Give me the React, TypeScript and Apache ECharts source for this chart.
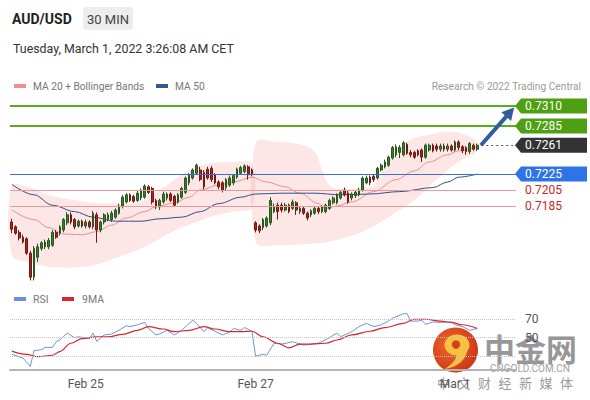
import React, { useEffect, useRef } from "react";
import * as echarts from "echarts";

const FONT = "Roboto, 'Liberation Sans', Arial, sans-serif";
const CJK = "'Noto Sans CJK SC', sans-serif";

const pairName = "AUD/USD";
const timeframe = "30 MIN";
const timestamp = "Tuesday, March 1, 2022 3:26:08 AM CET";
const copyright = "Research \u00a9 2022 Trading Central";

// candles: [open, close, low, high]
const fridayCandles = [
  [0.7165, 0.7156, 0.7151, 0.7169], [0.7159, 0.7151, 0.7149, 0.7161], [0.7152, 0.7145, 0.7142, 0.7155],
  [0.7146, 0.714, 0.7138, 0.7149], [0.7144, 0.7126, 0.7124, 0.7146], [0.7126, 0.7096, 0.7092, 0.7129],
  [0.7096, 0.7132, 0.7092, 0.7135], [0.7121, 0.7134, 0.7115, 0.7138], [0.7132, 0.7139, 0.7129, 0.7141],
  [0.7134, 0.714, 0.7131, 0.7143], [0.7134, 0.7142, 0.7131, 0.7145], [0.7136, 0.7152, 0.7134, 0.7155],
  [0.7152, 0.7146, 0.7144, 0.7155], [0.7151, 0.7159, 0.7148, 0.7161], [0.7155, 0.7168, 0.7152, 0.717],
  [0.7164, 0.7174, 0.7161, 0.7177], [0.7174, 0.7165, 0.7162, 0.7177], [0.7168, 0.7159, 0.7156, 0.717],
  [0.716, 0.7166, 0.7158, 0.7168], [0.7166, 0.716, 0.7158, 0.7168], [0.716, 0.7165, 0.7157, 0.7168],
  [0.7165, 0.7159, 0.7157, 0.7167], [0.7159, 0.7176, 0.7156, 0.7179], [0.7174, 0.7155, 0.7139, 0.7177],
  [0.7155, 0.7165, 0.7152, 0.7167], [0.7165, 0.7174, 0.7162, 0.7176], [0.7168, 0.7174, 0.7166, 0.7177],
  [0.7168, 0.7176, 0.7165, 0.7179], [0.7171, 0.718, 0.7169, 0.7182], [0.7176, 0.7185, 0.7174, 0.7188],
  [0.7185, 0.7196, 0.7182, 0.7199], [0.719, 0.7199, 0.7188, 0.7201], [0.7199, 0.7192, 0.719, 0.7201],
  [0.7197, 0.7191, 0.7189, 0.7199], [0.7192, 0.7201, 0.719, 0.7204], [0.7195, 0.7205, 0.7192, 0.7207],
  [0.7196, 0.721, 0.7194, 0.7212], [0.7209, 0.7202, 0.72, 0.7211], [0.7207, 0.719, 0.7187, 0.7209],
  [0.7192, 0.7184, 0.7181, 0.7194], [0.7184, 0.7192, 0.718, 0.7194], [0.719, 0.72, 0.7188, 0.7203],
  [0.7195, 0.72, 0.7192, 0.7202], [0.72, 0.7192, 0.719, 0.7202], [0.7197, 0.7186, 0.7184, 0.7199],
  [0.719, 0.7199, 0.7188, 0.7201], [0.7196, 0.7207, 0.7194, 0.7209], [0.7202, 0.722, 0.72, 0.7222],
  [0.7214, 0.7224, 0.7211, 0.7226], [0.722, 0.723, 0.7218, 0.7232], [0.7226, 0.7236, 0.7224, 0.7238],
  [0.723, 0.7218, 0.7216, 0.7234], [0.7227, 0.7209, 0.7206, 0.723], [0.7231, 0.722, 0.7218, 0.7234],
  [0.7232, 0.7218, 0.7215, 0.7235], [0.7224, 0.7214, 0.7212, 0.7226], [0.7215, 0.7209, 0.7206, 0.7217],
  [0.7214, 0.7205, 0.7202, 0.7216], [0.7208, 0.7218, 0.7205, 0.722], [0.7211, 0.722, 0.7209, 0.7223],
  [0.7214, 0.7223, 0.7211, 0.7225], [0.7221, 0.7231, 0.7219, 0.7233], [0.7226, 0.7233, 0.7224, 0.7235],
  [0.7228, 0.7235, 0.7226, 0.7237], [0.7234, 0.7224, 0.7218, 0.7236], [0.723, 0.7225, 0.7222, 0.7232],
];
const mondayCandles = [
  [0.7164, 0.7155, 0.7152, 0.7166], [0.716, 0.7154, 0.7151, 0.7162], [0.7158, 0.7168, 0.7155, 0.717],
  [0.716, 0.717, 0.7158, 0.7172], [0.7164, 0.7192, 0.7161, 0.7196], [0.7178, 0.7184, 0.7176, 0.7188],
  [0.7186, 0.7178, 0.7168, 0.7189], [0.7186, 0.718, 0.7177, 0.7189], [0.718, 0.7186, 0.7178, 0.7189],
  [0.7186, 0.7178, 0.7176, 0.7188], [0.7182, 0.719, 0.718, 0.7193], [0.7189, 0.718, 0.7174, 0.7191],
  [0.7178, 0.7182, 0.7175, 0.7185], [0.7182, 0.7176, 0.7174, 0.7184], [0.7176, 0.717, 0.7167, 0.7178],
  [0.7174, 0.7179, 0.7171, 0.7181], [0.7176, 0.7182, 0.7174, 0.7185], [0.7182, 0.7178, 0.7175, 0.7184],
  [0.7178, 0.7184, 0.7176, 0.7186], [0.7178, 0.7186, 0.7176, 0.7188], [0.7182, 0.7192, 0.718, 0.7194],
  [0.7189, 0.7195, 0.7187, 0.7197], [0.7189, 0.7199, 0.7187, 0.7201], [0.7195, 0.7202, 0.7193, 0.7205],
  [0.7205, 0.7199, 0.7197, 0.7208], [0.7201, 0.719, 0.7188, 0.7204], [0.7195, 0.72, 0.7192, 0.7202],
  [0.7198, 0.7202, 0.7195, 0.7205], [0.7199, 0.7205, 0.7197, 0.7208], [0.7205, 0.722, 0.7203, 0.7222],
  [0.7214, 0.722, 0.7212, 0.7223], [0.7221, 0.7214, 0.7211, 0.7223], [0.7222, 0.7218, 0.7215, 0.7224],
  [0.722, 0.7232, 0.7218, 0.7234], [0.723, 0.7236, 0.7228, 0.7238], [0.7234, 0.724, 0.7232, 0.7243],
  [0.7236, 0.7246, 0.7234, 0.7248], [0.7245, 0.7258, 0.7243, 0.726], [0.7249, 0.7259, 0.7246, 0.7262],
  [0.7252, 0.7258, 0.7245, 0.7261], [0.7249, 0.7264, 0.7247, 0.7266], [0.7262, 0.7251, 0.7249, 0.7264],
  [0.7252, 0.7249, 0.7246, 0.7255], [0.7252, 0.7246, 0.7244, 0.7254], [0.7254, 0.7249, 0.7247, 0.7256],
  [0.7255, 0.7246, 0.724, 0.7257], [0.7246, 0.7261, 0.7244, 0.7263], [0.7255, 0.7261, 0.7253, 0.7263],
  [0.7261, 0.7254, 0.7252, 0.7263], [0.726, 0.7256, 0.7253, 0.7263], [0.7256, 0.726, 0.7253, 0.7263],
  [0.726, 0.7256, 0.7253, 0.7263], [0.7256, 0.726, 0.7253, 0.7263], [0.726, 0.7255, 0.7253, 0.7262],
  [0.7255, 0.7265, 0.7253, 0.7267], [0.7265, 0.7258, 0.7255, 0.7267], [0.7259, 0.7254, 0.7251, 0.7261],
  [0.7258, 0.7253, 0.7249, 0.726], [0.7253, 0.7263, 0.725, 0.7265], [0.7261, 0.7256, 0.7254, 0.7263],
  [0.7256, 0.7261, 0.7254, 0.7263],
];
const candles = [...fridayCandles, ...mondayCandles];
const lastIndex = candles.length - 1;
const lastClose = candles[lastIndex][1];
const rightPadSlots = 10;
const slotCount = candles.length + rightPadSlots;
const categories = Array.from({ length: slotCount }, (_, i) => String(i));

const dateLabels = ["Feb 25", "Feb 27", "Mar 1"];
const dateLabelSlots = [20, 66, 120];

// [slot, price]
const ma20 = [
  [0, 0.718], [6, 0.7168], [10, 0.7158], [14, 0.715], [19, 0.7149], [23, 0.7153], [27, 0.7161],
  [31, 0.717], [36, 0.7178], [39, 0.7184], [44, 0.7189], [48, 0.7196], [51, 0.7205], [56, 0.7211],
  [60, 0.7215], [65, 0.7221], [69, 0.7215], [74, 0.7209], [78, 0.7201], [83, 0.7188], [85, 0.7182],
  [88, 0.7185], [92, 0.719], [98, 0.7203], [104, 0.7218], [109, 0.7229], [113, 0.724], [118, 0.7249],
  [121, 0.7254], [126, 0.7259],
];
const ma50 = [
  [0, 0.7212], [6, 0.7199], [11, 0.7186], [17, 0.7178], [22, 0.7171], [28, 0.7166], [35, 0.7166],
  [40, 0.7169], [46, 0.7171], [51, 0.7178], [56, 0.7188], [62, 0.7196], [66, 0.72], [73, 0.7201],
  [82, 0.7201], [89, 0.7199], [97, 0.72], [105, 0.7203], [114, 0.7208], [118, 0.7215], [121, 0.7221],
  [126, 0.7225],
];
const bandUpperFri = [
  [0, 0.721], [5, 0.7208], [10, 0.7199], [16, 0.7193], [22, 0.7189], [28, 0.7188], [34, 0.7189],
  [38, 0.7199], [42, 0.7211], [46, 0.7224], [50, 0.7233], [55, 0.7239], [60, 0.724], [65, 0.7238],
];
const bandLowerFri = [
  [0, 0.7124], [5, 0.7114], [10, 0.7109], [16, 0.7108], [22, 0.7111], [28, 0.712], [34, 0.713],
  [38, 0.7139], [42, 0.7149], [46, 0.7158], [50, 0.7165], [55, 0.7173], [60, 0.7178], [65, 0.7183],
];
const bandUpperMon = [
  [66, 0.7264], [72, 0.7265], [78, 0.7262], [82, 0.7253], [84, 0.723], [86, 0.7211], [90, 0.7206],
  [95, 0.7208], [98, 0.7212], [101, 0.7233], [104, 0.7253], [108, 0.7268], [113, 0.7274],
  [118, 0.7278], [122, 0.7275], [126, 0.7265],
];
const bandLowerMon = [
  [66, 0.714], [72, 0.7136], [78, 0.7137], [84, 0.7139], [90, 0.7145], [96, 0.7155], [101, 0.7168],
  [106, 0.7183], [110, 0.7196], [114, 0.7214], [118, 0.723], [122, 0.7243], [126, 0.7253],
];
const bands = [
  { upper: bandUpperFri, lower: bandLowerFri },
  { upper: bandUpperMon, lower: bandLowerMon },
];

const levelValues = [0.731, 0.7285, 0.7261, 0.7225, 0.7205, 0.7185];
const levelKinds = ["target", "target", "last", "pivot", "support", "support"];

const rsi = [
  [0, 32], [3, 28], [5, 19], [6, 36], [8, 37], [9, 39.5], [11, 39.5], [12, 45.6], [13, 47.5], [15, 55],
  [17, 50], [18, 51], [21, 49], [22, 55], [23, 46], [25, 53], [27, 54], [29, 58], [31, 63], [32, 62],
  [34, 64], [36, 66.6], [37, 60], [39, 53], [40, 54], [42, 58], [44, 53], [46, 58], [48, 65.5], [49, 69],
  [50, 65.5], [52, 56.5], [53, 61], [55, 57], [57, 53], [59, 56], [60, 60], [62, 58], [63, 61], [65, 57],
  [66, 30], [68, 32], [69, 31], [71, 44], [73, 43], [76, 45.6], [79, 42], [83, 44], [86, 50], [88, 55],
  [89, 51], [92, 56.5], [94, 62], [96, 65.5], [98, 62], [100, 64], [102, 68], [103, 71], [106, 76],
  [107, 76], [108, 68], [110, 68], [111, 69], [112, 64.5], [114, 67], [116, 66.6], [119, 67], [120, 64],
  [122, 62], [124, 58], [126, 60],
];
const rsiMa9 = [
  [0, 35.5], [4, 32], [7, 29.4], [11, 31], [13, 35], [16, 44], [19, 49], [23, 51], [26, 51], [30, 53.6],
  [34, 58], [37, 62], [41, 59.4], [44, 56.5], [48, 58], [52, 62], [55, 59.4], [59, 56.5], [62, 56.5],
  [65, 57], [68, 51], [72, 44], [75, 39], [78, 43], [81, 43], [85, 44], [88, 47.5], [92, 53], [97, 57],
  [101, 61], [106, 65.5], [109, 70], [112, 70], [116, 68], [119, 66.6], [122, 64], [126, 60],
];
const rsiLevels = [70, 50, 30];
const rsiLabelledLevels = [70, 50];

const watermarkName = "中金网";
const watermarkDomain = "CNGOLD.COM.CN";
const watermarkSlogan = "中文财经新媒体";

echarts.graphic.registerShape(
  "swirlTail",
  echarts.graphic.extendPath("M 12 -3 C 12 9 3 17 -11 19 C -3 14 1 9 1 4 Z", {}) as any
);

const kindStyle: Record<string, any> = {
  target: { line: "#5cab1f", width: 2, dash: null, tag: "#4f9f12", text: "#ffffff" },
  last: { line: "#555555", width: 1, dash: [2, 3], tag: "#333333", text: "#ffffff" },
  pivot: { line: "#3b6fd1", width: 1.2, dash: null, tag: "#2f74e6", text: "#ffffff" },
  support: { line: "#e79a9a", width: 1, dash: null, tag: null, text: "#c62828" },
};

function buildOption(): any {
  const crisp = (y: number) => Math.round(y) + 0.5;
  const sloganChars = Array.from(watermarkSlogan);
  return {
    animation: false,
    backgroundColor: "#ffffff",
    textStyle: { fontFamily: FONT },
    grid: [
      { left: 10, right: 74, top: 98, height: 192 },
      { left: 10, right: 74, top: 310, height: 60 },
    ],
    xAxis: [
      { type: "category", gridIndex: 0, data: categories, show: false, boundaryGap: true },
      {
        type: "category",
        gridIndex: 1,
        data: categories,
        boundaryGap: true,
        axisLine: { onZero: false, lineStyle: { color: "#b3b3b3", width: 2 } },
        axisTick: { show: false },
        splitLine: { show: false },
        axisLabel: {
          interval: (i: number) => dateLabelSlots.includes(i),
          formatter: (v: string) => {
            const k = dateLabelSlots.indexOf(Number(v));
            return k >= 0 ? dateLabels[k] : "";
          },
          color: "#555",
          fontSize: 12,
          margin: 8,
          fontFamily: FONT,
        },
      },
    ],
    yAxis: [
      { type: "value", gridIndex: 0, min: 0.708, max: 0.732, show: false },
      { type: "value", gridIndex: 1, min: 15, max: 80, show: false },
    ],
    series: [
      {
        type: "custom",
        name: "Bollinger",
        xAxisIndex: 0,
        yAxisIndex: 0,
        z: 1,
        silent: true,
        data: [[0, 0.72], [1, 0.72]],
        renderItem: (params: any, api: any) => {
          const b = bands[params.dataIndex];
          const pts = [
            ...b.upper.map((p) => api.coord(p)),
            ...b.lower.slice().reverse().map((p) => api.coord(p)),
          ];
          return {
            type: "polygon",
            shape: { points: pts, smooth: 0.35 },
            style: { fill: "rgba(242,140,140,0.22)" },
          };
        },
      },
      {
        type: "line",
        name: "MA 20",
        xAxisIndex: 0,
        yAxisIndex: 0,
        data: ma20,
        smooth: 0.35,
        smoothMonotone: "x",
        symbol: "none",
        z: 2,
        lineStyle: { color: "#ec8f90", width: 1 },
      },
      {
        type: "line",
        name: "MA 50",
        xAxisIndex: 0,
        yAxisIndex: 0,
        data: ma50,
        smooth: 0.35,
        smoothMonotone: "x",
        symbol: "none",
        z: 2,
        lineStyle: { color: "#2f5289", width: 1 },
      },
      {
        type: "candlestick",
        name: pairName,
        xAxisIndex: 0,
        yAxisIndex: 0,
        data: candles,
        barWidth: 2.2,
        z: 3,
        itemStyle: {
          color: "#3a7f31",
          color0: "#a8261e",
          borderColor: "#27561f",
          borderColor0: "#6e1a14",
          borderWidth: 1,
        },
      },
      {
        type: "custom",
        name: "levels",
        xAxisIndex: 0,
        yAxisIndex: 0,
        z: 4,
        silent: true,
        clip: false,
        data: levelValues.map((v, i) => [i, v]),
        renderItem: (params: any, api: any) => {
          const i = params.dataIndex;
          const v = levelValues[i];
          const st = kindStyle[levelKinds[i]];
          const cs = params.coordSys;
          const yRaw = api.coord([0, v])[1];
          const y = st.width === 2 ? Math.round(yRaw) : crisp(yRaw);
          const xL = levelKinds[i] === "last" ? api.coord([lastIndex, v])[0] + 4 : cs.x;
          const xR = cs.x + cs.width;
          const children: any[] = [
            {
              type: "line",
              shape: { x1: xL, y1: y, x2: xR, y2: y },
              style: { stroke: st.line, lineWidth: st.width, lineDash: st.dash || undefined },
            },
          ];
          if (st.tag) {
            children.push({
              type: "polygon",
              shape: {
                points: [[xR - 1, yRaw], [xR + 5, yRaw - 7.5], [xR + 71, yRaw - 7.5], [xR + 71, yRaw + 7.5], [xR + 5, yRaw + 7.5]],
              },
              style: { fill: st.tag },
            });
          }
          children.push({
            type: "text",
            x: xR + 9,
            y: yRaw,
            style: {
              text: v.toFixed(4),
              fill: st.text,
              font: `12px ${FONT}`,
              textAlign: "left",
              textVerticalAlign: "middle",
            },
          });
          return { type: "group", children };
        },
      },
      {
        type: "custom",
        name: "arrow",
        xAxisIndex: 0,
        yAxisIndex: 0,
        z: 5,
        silent: true,
        clip: false,
        data: [[lastIndex, lastClose]],
        renderItem: (params: any, api: any) => {
          const from = api.coord([lastIndex + 1.3, lastClose]);
          const to = api.coord([slotCount - 1.2, levelValues[0] - 0.0002]);
          const dx = to[0] - from[0];
          const dy = to[1] - from[1];
          const len = Math.sqrt(dx * dx + dy * dy);
          const ux = dx / len;
          const uy = dy / len;
          const head = 12;
          const half = 6.5;
          const bx = to[0] - ux * head;
          const by = to[1] - uy * head;
          return {
            type: "group",
            children: [
              {
                type: "line",
                shape: { x1: from[0], y1: from[1], x2: bx + ux, y2: by + uy },
                style: { stroke: "#2f5e9e", lineWidth: 4 },
              },
              {
                type: "polygon",
                shape: {
                  points: [
                    [to[0], to[1]],
                    [bx - uy * half, by + ux * half],
                    [bx + uy * half, by - ux * half],
                  ],
                },
                style: { fill: "#2f5e9e" },
              },
            ],
          };
        },
      },
      {
        type: "line",
        name: "RSI",
        xAxisIndex: 1,
        yAxisIndex: 1,
        data: rsi,
        symbol: "none",
        z: 2,
        lineStyle: { color: "#7193d8", width: 1 },
        markLine: {
          silent: true,
          symbol: ["none", "none"],
          lineStyle: { type: "dotted", color: "#c4c4c4", width: 1 },
          label: {
            show: true,
            position: "end",
            distance: 9,
            formatter: (p: any) => String(p.value),
            color: "#555",
            fontSize: 12,
            fontFamily: FONT,
          },
          data: rsiLevels.map((v) => ({
            yAxis: v,
            label: { show: rsiLabelledLevels.includes(v) },
          })),
        },
      },
      {
        type: "line",
        name: "9MA",
        xAxisIndex: 1,
        yAxisIndex: 1,
        data: rsiMa9,
        symbol: "none",
        smooth: 0.35,
        smoothMonotone: "x",
        z: 3,
        lineStyle: { color: "#d8262b", width: 1.2 },
      },
    ],
    graphic: [
      { type: "text", x: 12, y: 19, style: { text: pairName, font: `bold 14px ${FONT}`, fill: "#222", textVerticalAlign: "middle" } },
      { type: "rect", shape: { x: 83, y: 7, width: 50, height: 23, r: 3 }, style: { fill: "#ededed" } },
      { type: "text", x: 108, y: 19, style: { text: timeframe, font: `13px ${FONT}`, fill: "#444", textAlign: "center", textVerticalAlign: "middle" } },
      { type: "text", x: 13, y: 48, style: { text: timestamp, font: `12.4px ${FONT}`, fill: "#333", textVerticalAlign: "middle" } },
      { type: "rect", shape: { x: 14, y: 84, width: 12, height: 4 }, style: { fill: "#f08c92" } },
      { type: "text", x: 33, y: 86.5, style: { text: "MA 20 + Bollinger Bands", font: `10.2px ${FONT}`, fill: "#777", textVerticalAlign: "middle" } },
      { type: "rect", shape: { x: 156, y: 84, width: 12, height: 4 }, style: { fill: "#345a90" } },
      { type: "text", x: 175, y: 86.5, style: { text: "MA 50", font: `10.2px ${FONT}`, fill: "#777", textVerticalAlign: "middle" } },
      { type: "text", x: 581, y: 86.5, style: { text: copyright, font: `10.2px ${FONT}`, fill: "#9a9a9a", textAlign: "right", textVerticalAlign: "middle" } },
      { type: "rect", shape: { x: 14, y: 297, width: 12, height: 4 }, style: { fill: "#6f90d8" } },
      { type: "text", x: 33, y: 299, style: { text: "RSI", font: `10.5px ${FONT}`, fill: "#777", textVerticalAlign: "middle" } },
      { type: "rect", shape: { x: 62, y: 297, width: 12, height: 4 }, style: { fill: "#d62828" } },
      { type: "text", x: 82, y: 299, style: { text: "9MA", font: `10.5px ${FONT}`, fill: "#777", textVerticalAlign: "middle" } },
      {
        type: "group",
        z: 100,
        children: [
          {
            type: "circle",
            shape: { cx: 455.5, cy: 350, r: 22.5 },
            style: {
              fill: new echarts.graphic.RadialGradient(0.4, 0.4, 0.75, [
                { offset: 0, color: "#f26a2e" },
                { offset: 1, color: "#c42c10" },
              ]),
            },
          },
          { type: "ellipse", shape: { cx: 457, cy: 345, rx: 12.5, ry: 10.5 }, style: { fill: "#f6c244" } },
          { type: "swirlTail", x: 455.5, y: 350, style: { fill: "#f6c244" } },
          { type: "circle", shape: { cx: 456, cy: 344.5, r: 4.2 }, style: { fill: "#d8401c" } },
          { type: "text", x: 484, y: 347, style: { text: watermarkName, font: `bold 31px ${CJK}`, fill: "rgba(145,145,145,0.95)", textVerticalAlign: "middle" } },
          { type: "text", x: 530, y: 368.5, style: { text: watermarkDomain, font: `10px ${FONT}`, fill: "#a0a0a0", textAlign: "center", textVerticalAlign: "middle" } },
          ...sloganChars.map((ch, i) => ({
            type: "text",
            x: 443.5 + i * 20.5,
            y: 382,
            style: { text: ch, font: `13px ${CJK}`, fill: "rgba(140,140,140,0.9)", textAlign: "center", textVerticalAlign: "middle" },
          })),
        ],
      },
    ],
  };
}

export default function App() {
  const ref = useRef<HTMLDivElement>(null);
  useEffect(() => {
    if (!ref.current) return;
    const chart = echarts.init(ref.current, null, { renderer: "svg" });
    chart.setOption(buildOption());
    return () => chart.dispose();
  }, []);
  return (
    <div
      ref={ref}
      style={{ position: "fixed", left: 0, top: 0, width: 590, height: 400, background: "#fff" }}
    />
  );
}
